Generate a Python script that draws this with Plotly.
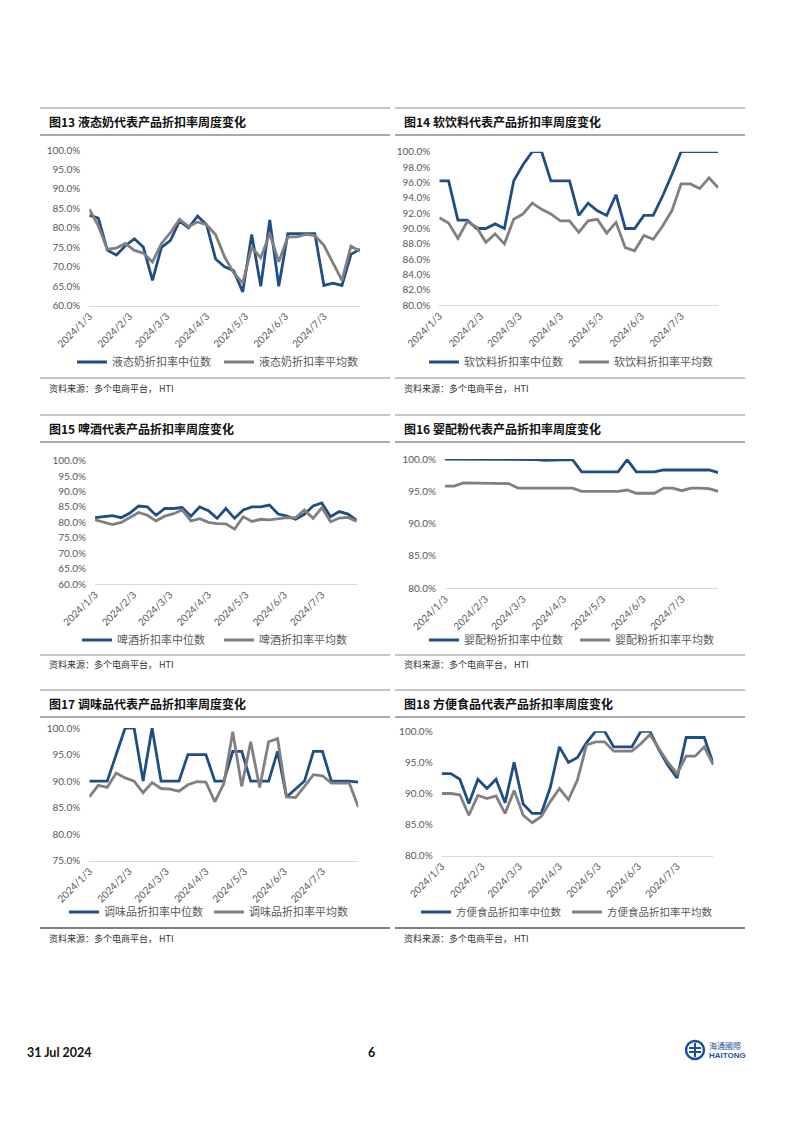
import plotly.graph_objects as go

W, H = 802, 1132          # page size
OFF = 8                   # default body margin of the html page
FW, FH = W - 2 * OFF, H - 2 * OFF

# ---------------- data ----------------
weeks = ["2024-01-03", "2024-01-10", "2024-01-17", "2024-01-24", "2024-01-31",
         "2024-02-07", "2024-02-14", "2024-02-21", "2024-02-28", "2024-03-06",
         "2024-03-13", "2024-03-20", "2024-03-27", "2024-04-03", "2024-04-10",
         "2024-04-17", "2024-04-24", "2024-05-01", "2024-05-08", "2024-05-15",
         "2024-05-22", "2024-05-29", "2024-06-05", "2024-06-12", "2024-06-19",
         "2024-06-26", "2024-07-03", "2024-07-10", "2024-07-17", "2024-07-24",
         "2024-07-31"]
tick_vals = ["2024-01-03", "2024-02-03", "2024-03-03", "2024-04-03",
             "2024-05-03", "2024-06-03", "2024-07-03"]
tick_text = ["2024/1/3", "2024/2/3", "2024/3/3", "2024/4/3",
             "2024/5/3", "2024/6/3", "2024/7/3"]

titles = ["图13 液态奶代表产品折扣率周度变化", "图14 软饮料代表产品折扣率周度变化",
          "图15 啤酒代表产品折扣率周度变化", "图16 婴配粉代表产品折扣率周度变化",
          "图17 调味品代表产品折扣率周度变化", "图18 方便食品代表产品折扣率周度变化"]
median_names = ["液态奶折扣率中位数", "软饮料折扣率中位数", "啤酒折扣率中位数",
                "婴配粉折扣率中位数", "调味品折扣率中位数", "方便食品折扣率中位数"]
mean_names = ["液态奶折扣率平均数", "软饮料折扣率平均数", "啤酒折扣率平均数",
              "婴配粉折扣率平均数", "调味品折扣率平均数", "方便食品折扣率平均数"]
source_text = "资料来源：多个电商平台， HTI"

milk_median = [83.2, 82.5, 74.3, 73.0, 75.4, 77.2, 75.0, 66.5, 75.0, 76.8,
               81.7, 80.0, 83.0, 80.8, 72.0, 70.0, 69.0, 63.5, 78.3, 65.0,
               82.0, 65.0, 78.5, 78.5, 78.5, 78.5, 65.2, 65.8, 65.2, 73.2, 74.5]
milk_mean = [84.8, 80.5, 74.5, 74.8, 76.0, 74.2, 73.5, 71.2, 76.0, 78.8,
             82.2, 80.3, 81.5, 80.8, 78.2, 72.5, 68.5, 65.8, 75.0, 72.3,
             78.5, 71.3, 77.7, 77.7, 78.3, 78.0, 75.5, 71.0, 66.5, 75.3, 74.0]

soft_median = [96.2, 96.2, 91.1, 91.1, 90.0, 90.0, 90.6, 90.0, 96.2, 98.3,
               100.0, 100.0, 96.2, 96.2, 96.2, 91.7, 93.3, 92.3, 91.7, 94.4,
               90.0, 90.0, 91.7, 91.7, 94.2, 97.0, 100.0, 100.0, 100.0, 100.0, 100.0]
soft_mean = [91.4, 90.7, 88.7, 90.9, 90.2, 88.2, 89.3, 88.0, 91.2, 91.9,
             93.3, 92.5, 91.9, 91.0, 91.0, 89.5, 91.0, 91.2, 89.4, 90.8,
             87.5, 87.1, 89.1, 88.6, 90.3, 92.3, 95.8, 95.8, 95.2, 96.6, 95.3]

beer_median = [81.5, 81.8, 82.2, 81.5, 83.0, 85.3, 85.0, 82.3, 84.5, 84.5,
               84.8, 82.0, 85.0, 83.8, 81.3, 84.5, 81.3, 84.0, 85.0, 85.0,
               85.6, 82.7, 82.0, 81.0, 82.6, 85.3, 86.3, 81.8, 83.5, 82.7, 80.7]
beer_mean = [80.8, 80.0, 79.3, 80.0, 81.5, 83.2, 82.3, 80.5, 82.0, 82.8,
             84.0, 80.5, 81.2, 80.0, 79.6, 79.5, 77.8, 81.8, 80.3, 81.0,
             80.8, 81.2, 81.5, 81.5, 84.0, 81.3, 84.8, 80.2, 81.4, 81.6, 80.3]

formula_median = [100.0, 100.0, 100.0, 100.0, 100.0, 100.0, 100.0, 100.0, 100.0, 99.9,
                  99.9, 99.8, 99.8, 99.9, 99.9, 98.0, 98.0, 98.0, 98.0, 98.0,
                  99.9, 98.0, 98.0, 98.0, 98.3, 98.3, 98.3, 98.3, 98.3, 98.3, 97.9]
formula_mean = [95.8, 95.8, 96.3, 96.3, 96.3, 96.3, 96.3, 96.2, 95.5, 95.5,
                95.4, 95.4, 95.4, 95.5, 95.5, 95.0, 95.0, 95.0, 95.0, 95.0,
                95.2, 94.7, 94.7, 94.7, 95.5, 95.5, 95.1, 95.5, 95.5, 95.4, 95.0]

seasoning_median = [90.0, 90.0, 90.0, 95.0, 100.0, 100.0, 90.0, 100.0, 90.0, 90.0,
                    90.0, 95.0, 95.0, 95.0, 90.0, 90.0, 95.6, 95.6, 90.0, 90.0,
                    90.0, 95.6, 87.0, 88.5, 90.0, 95.6, 95.6, 90.0, 90.0, 90.0, 89.8]
seasoning_mean = [87.0, 89.2, 88.8, 91.5, 90.6, 90.0, 87.8, 89.7, 88.6, 88.5,
                  88.1, 89.3, 89.9, 89.8, 86.1, 89.5, 99.3, 89.0, 97.4, 88.8,
                  97.4, 98.0, 87.0, 86.9, 89.0, 91.2, 91.0, 89.6, 89.6, 89.6, 85.1]

instant_median = [93.2, 93.2, 92.3, 88.4, 92.3, 90.8, 92.3, 88.5, 95.0, 88.3,
                  86.8, 86.8, 91.0, 97.5, 95.0, 95.8, 98.2, 100.0, 100.0, 97.5,
                  97.5, 97.5, 100.0, 100.0, 97.0, 94.5, 92.5, 99.0, 99.0, 99.0, 94.8]
instant_mean = [90.0, 90.0, 89.8, 86.5, 89.7, 89.2, 89.6, 86.8, 90.5, 86.5,
                85.3, 86.3, 88.7, 90.8, 89.0, 92.2, 97.8, 98.3, 98.3, 96.8,
                96.8, 96.8, 98.0, 99.5, 97.2, 95.0, 93.2, 96.0, 96.0, 97.5, 94.6]

medians = [milk_median, soft_median, beer_median, formula_median, seasoning_median, instant_median]
means = [milk_mean, soft_mean, beer_mean, formula_mean, seasoning_mean, instant_mean]
y_ranges = [(60, 100), (80, 100), (60, 100), (80, 100), (75, 100), (80, 100)]
y_dticks = [5, 2, 5, 5, 5, 5]

# ---------------- layout geometry (page pixels) ----------------
BLUE = "#1F4E85"
GREY = "#808080"
TXT = "#595959"
NUM_FONT = "Lato, 'Liberation Sans', sans-serif"
CJK_FONT = "'Noto Sans CJK SC', sans-serif"

cols = [(40, 390), (395, 745)]
rows = [
    dict(tline=108, title=121.5, bline=135, legend=362, sline=378, src=389),
    dict(tline=415, title=428.5, bline=442, legend=640, sline=655, src=664),
    dict(tline=690, title=703.5, bline=717, legend=912, sline=928, src=938),
]
plot_boxes = [  # x0, x1, ytop, ybottom
    (89.3, 360.0, 150.0, 305.7),
    (439.3, 718.3, 151.7, 305.3),
    (95.0, 356.7, 460.7, 584.0),
    (445.0, 718.3, 459.0, 588.3),
    (89.3, 358.3, 728.0, 860.7),
    (441.7, 713.3, 731.3, 855.7),
]
legend_pos = [  # line start x, distance between the two entries, font size
    (78, 144, 11), (430, 147, 11), (83, 139, 11),
    (430, 148, 11), (70, 142, 11), (422, 148, 10.5),
]


def fx(x):
    return (x - OFF) / FW


def fy(y):
    return 1 - (y - OFF) / FH


fig = go.Figure()
layout = dict(
    width=FW, height=FH, margin=dict(l=0, r=0, t=0, b=0),
    paper_bgcolor="white", plot_bgcolor="white", template="none",
    showlegend=True,
)
shapes = []
annotations = []

for i in range(6):
    r, c = divmod(i, 2)
    row, col = rows[r], cols[c]
    x0, x1, yt, yb = plot_boxes[i]
    sfx = "" if i == 0 else str(i + 1)
    leg = "legend" if i == 0 else f"legend{i + 1}"

    fig.add_trace(go.Scatter(
        x=weeks, y=medians[i], mode="lines", name=median_names[i],
        line=dict(color=BLUE, width=2.8), xaxis="x" + sfx, yaxis="y" + sfx,
        legend=leg))
    fig.add_trace(go.Scatter(
        x=weeks, y=means[i], mode="lines", name=mean_names[i],
        line=dict(color=GREY, width=2.8), xaxis="x" + sfx, yaxis="y" + sfx,
        legend=leg))

    layout["xaxis" + sfx] = dict(
        domain=[fx(x0), fx(x1)], anchor="y" + sfx, type="date",
        range=[weeks[0], weeks[-1]], tickmode="array",
        tickvals=tick_vals, ticktext=tick_text, tickangle=-45,
        tickfont=dict(family=NUM_FONT, size=10, color=TXT),
        showline=True, linecolor="#D9D9D9", linewidth=1,
        showgrid=False, zeroline=False, ticks="", fixedrange=True)
    layout["yaxis" + sfx] = dict(
        domain=[fy(yb), fy(yt)], anchor="x" + sfx,
        range=list(y_ranges[i]), dtick=y_dticks[i], tick0=y_ranges[i][0],
        tickformat=".1f", ticksuffix="%",
        tickfont=dict(family=NUM_FONT, size=10, color=TXT),
        showline=False, showgrid=False, zeroline=False, ticks="",
        ticklabelstandoff=8, fixedrange=True)

    lx, ew, fs = legend_pos[i]
    layout[leg] = dict(
        orientation="h", x=fx(lx - 6), y=fy(row["legend"]),
        xanchor="left", yanchor="middle", bgcolor="rgba(0,0,0,0)",
        font=dict(family=CJK_FONT, size=fs, color=TXT),
        entrywidth=ew - 42, entrywidthmode="pixels", itemwidth=30,
        traceorder="normal")

    # title block lines
    shapes.append(dict(type="line", xref="paper", yref="paper",
                       x0=fx(col[0]), x1=fx(col[1]),
                       y0=fy(row["tline"]), y1=fy(row["tline"]),
                       line=dict(color="#8C8C8C", width=1)))
    shapes.append(dict(type="line", xref="paper", yref="paper",
                       x0=fx(col[0]), x1=fx(col[1]),
                       y0=fy(row["bline"]), y1=fy(row["bline"]),
                       line=dict(color="#8C8C8C", width=1.5)))
    shapes.append(dict(type="line", xref="paper", yref="paper",
                       x0=fx(col[0]), x1=fx(col[1]),
                       y0=fy(row["sline"]), y1=fy(row["sline"]),
                       line=dict(color="#555555" if r == 2 else "#8C8C8C",
                                 width=1.5 if r == 2 else 1)))
    annotations.append(dict(
        text="<b>" + titles[i] + "</b>", xref="paper", yref="paper",
        x=fx(col[0] + 7), y=fy(row["title"]), xanchor="left", yanchor="middle",
        showarrow=False, font=dict(family=CJK_FONT, size=12, color="#111111")))
    annotations.append(dict(
        text=source_text, xref="paper", yref="paper",
        x=fx(col[0] + 7), y=fy(row["src"]), xanchor="left", yanchor="middle",
        showarrow=False, font=dict(family=CJK_FONT, size=9, color="#333333")))

# footer
annotations.append(dict(text="<b>31 Jul 2024</b>", xref="paper", yref="paper",
                        x=fx(25), y=fy(1052), xanchor="left", yanchor="middle",
                        showarrow=False,
                        font=dict(family=NUM_FONT, size=12.5, color="#111111")))
annotations.append(dict(text="<b>6</b>", xref="paper", yref="paper",
                        x=fx(371), y=fy(1052), xanchor="center", yanchor="middle",
                        showarrow=False,
                        font=dict(family=NUM_FONT, size=12.5, color="#111111")))
shapes.append(dict(type="circle", xref="paper", yref="paper",
                   x0=fx(686), x1=fx(704), y0=fy(1059), y1=fy(1041),
                   line=dict(color="#1F4E9C", width=2.5), fillcolor="white"))
shapes.append(dict(type="line", xref="paper", yref="paper",
                   x0=fx(689), x1=fx(701), y0=fy(1048), y1=fy(1048),
                   line=dict(color="#1F4E9C", width=2)))
shapes.append(dict(type="line", xref="paper", yref="paper",
                   x0=fx(689), x1=fx(701), y0=fy(1052), y1=fy(1052),
                   line=dict(color="#1F4E9C", width=2)))
shapes.append(dict(type="line", xref="paper", yref="paper",
                   x0=fx(695), x1=fx(695), y0=fy(1043), y1=fy(1057),
                   line=dict(color="#1F4E9C", width=2)))
annotations.append(dict(text="海通國際", xref="paper", yref="paper",
                        x=fx(707), y=fy(1045.5), xanchor="left", yanchor="middle",
                        showarrow=False,
                        font=dict(family=CJK_FONT, size=8, color="#1F4E9C")))
annotations.append(dict(text="<b>HAITONG</b>", xref="paper", yref="paper",
                        x=fx(707), y=fy(1055), xanchor="left", yanchor="middle",
                        showarrow=False,
                        font=dict(family="'Liberation Sans', sans-serif", size=8,
                                  color="#1F4E9C")))

layout["shapes"] = shapes
layout["annotations"] = annotations
fig.update_layout(**layout)

fig.write_html("out.html")
